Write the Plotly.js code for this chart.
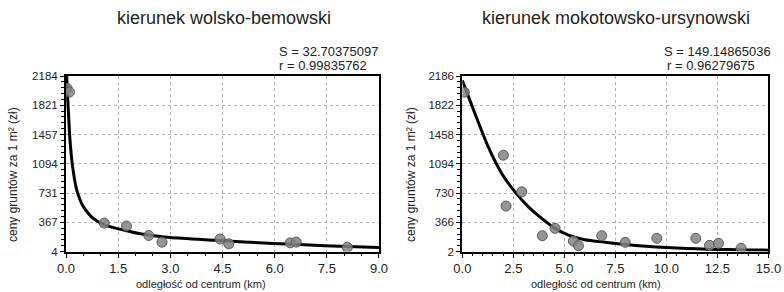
<!DOCTYPE html>
<html>
<head>
<meta charset="utf-8">
<script src="https://cdn.plot.ly/plotly-3.0.1.min.js"></script>
<style>html,body{margin:0;padding:0;background:#fff;}#chart{width:784px;height:292px;}</style>
</head>
<body>
<div id="chart"></div>
<script>
// ---- data ----
const leftTitle = "kierunek wolsko-bemowski";
const rightTitle = "kierunek mokotowsko-ursynowski";
const leftStats = ["S = 32.70375097", "r = 0.99835762"];
const rightStats = ["S = 149.14865036", "r = 0.96279675"];
const xTitle = "odległość od centrum (km)";
const yTitle = "ceny gruntów za 1 m² (zł)";

const leftPointsX = [0.03, 0.10, 1.10, 1.74, 2.38, 2.76, 4.43, 4.68, 6.45, 6.62, 8.09];
const leftPointsY = [2030, 1985, 357, 322, 204, 121, 160, 100, 112, 122, 58];
const leftCurveX = [0.01, 0.02, 0.066, 0.115, 0.19, 0.31, 0.5, 0.78, 1.12, 1.74, 2.13, 3.0, 4.28, 5.96, 7.44, 9.0];
const leftCurveY = [2600, 2184, 1758, 1385, 1056, 767, 560, 416, 333, 262, 225, 178, 145, 105, 78, 55];

const rightPointsX = [0.10, 2.01, 2.14, 2.91, 3.92, 4.54, 5.44, 5.69, 6.83, 7.98, 9.53, 11.44, 12.11, 12.55, 13.66];
const rightPointsY = [1985, 1201, 568, 745, 199, 291, 133, 75, 199, 117, 167, 167, 80, 105, 43];
const rightCurveX = [0, 0.62, 1.27, 1.93, 2.58, 3.24, 3.89, 4.54, 5.2, 6.0, 7.0, 8.0, 9.0, 10.0, 11.0, 12.0, 13.0, 14.0, 15.0];
const rightCurveY = [2131, 1718, 1304, 974, 745, 559, 415, 291, 208, 150, 118, 90, 68, 52, 40, 32, 27, 23, 20];

const leftYTicks = [4, 367.33, 730.67, 1094, 1457.33, 1820.67, 2184];
const leftYLabels = ["4", "367", "731", "1094", "1457", "1821", "2184"];
const rightYTicks = [2, 366, 730, 1094, 1458, 1822, 2186];
const rightYLabels = ["2", "366", "730", "1094", "1458", "1822", "2186"];
const leftXTicks = [0, 1.5, 3, 4.5, 6, 7.5, 9];
const leftXLabels = ["0.0", "1.5", "3.0", "4.5", "6.0", "7.5", "9.0"];
const rightXTicks = [0, 2.5, 5, 7.5, 10, 12.5, 15];
const rightXLabels = ["0.0", "2.5", "5.0", "7.5", "10.0", "12.5", "15.0"];

// ---- styles ----
const FONT = "Liberation Sans, Arial, sans-serif";
const markerStyle = {size: 10, color: "rgba(130,130,130,0.85)", line: {color: "#5a5a5a", width: 1}};
const curveStyle = {color: "#000", width: 3, shape: "spline", smoothing: 0.6};

const traces = [
  {x: leftCurveX, y: leftCurveY, mode: "lines", line: curveStyle, xaxis: "x", yaxis: "y", hoverinfo: "skip"},
  {x: leftPointsX, y: leftPointsY, mode: "markers", marker: markerStyle, xaxis: "x", yaxis: "y"},
  {x: rightCurveX, y: rightCurveY, mode: "lines", line: curveStyle, xaxis: "x2", yaxis: "y2", hoverinfo: "skip"},
  {x: rightPointsX, y: rightPointsY, mode: "markers", marker: markerStyle, xaxis: "x2", yaxis: "y2"}
];

function xAxis(domain, range, tv, tt, anchor, minorD) {
  return {
    domain: domain, range: range, anchor: anchor,
    tickmode: "array", tickvals: tv, ticktext: tt,
    ticks: "outside", ticklen: 4, tickwidth: 1, tickcolor: "#000",
    minor: {dtick: minorD, ticks: "outside", ticklen: 2, tickcolor: "#000", showgrid: false},
    showline: true, linecolor: "#000", linewidth: 2, mirror: true,
    showgrid: true, gridcolor: "#b0b0b0", griddash: "dot", gridwidth: 1,
    zeroline: false,
    tickfont: {family: FONT, size: 13, color: "#222"}
  };
}
function yAxis(domain, range, tv, tt, anchor, minorD, minor0) {
  return {
    domain: domain, range: range, anchor: anchor,
    tickmode: "array", tickvals: tv, ticktext: tt,
    ticks: "outside", ticklen: 4, tickwidth: 1, tickcolor: "#000",
    minor: {dtick: minorD, tick0: minor0, ticks: "outside", ticklen: 3, tickcolor: "#000", showgrid: false},
    showline: true, linecolor: "#000", linewidth: 2, mirror: true,
    showgrid: true, gridcolor: "#b0b0b0", griddash: "dot", gridwidth: 1,
    zeroline: false,
    tickfont: {family: FONT, size: 11.5, color: "#222"}
  };
}

function note(text, x, y, xanchor, size, angle) {
  return {text: text, xref: "paper", yref: "paper", x: x / 784, y: 1 - y / 292,
          xanchor: xanchor, yanchor: "middle", showarrow: false, textangle: angle || 0,
          font: {family: FONT, size: size, color: "#222"}};
}

const yDom = [0.1384, 0.7397];
const layout = {
  width: 784, height: 292,
  margin: {l: 0, r: 0, t: 0, b: 0},
  paper_bgcolor: "#fff", plot_bgcolor: "#fff",
  showlegend: false,
  xaxis: xAxis([0.0842, 0.4834], [0, 9], leftXTicks, leftXLabels, "y", 0.5),
  yaxis: yAxis(yDom, [4, 2184], leftYTicks, leftYLabels, "x", 363.333/5, 4),
  xaxis2: xAxis([0.5897, 0.9802], [0, 15], rightXTicks, rightXLabels, "y2", 0.5),
  yaxis2: yAxis(yDom, [2, 2186], rightYTicks, rightYLabels, "x2", 72.8, 2),
  annotations: [
    note(leftTitle, 224, 18, "center", 18),
    note(rightTitle, 616, 18, "center", 18),
    note(leftStats[0], 277, 51, "left", 13),
    note(leftStats[1], 277, 65, "left", 13),
    note(rightStats[0], 662, 51, "left", 13),
    note(rightStats[1], 665, 65, "left", 13),
    note(xTitle, 201, 284, "center", 11),
    note(xTitle, 596, 284, "center", 11),
    note(yTitle, 13, 175, "center", 12, -90),
    note(yTitle, 411, 175, "center", 12, -90)
  ]
};

Plotly.newPlot("chart", traces, layout, {staticPlot: true, displayModeBar: false});
</script>
</body>
</html>
